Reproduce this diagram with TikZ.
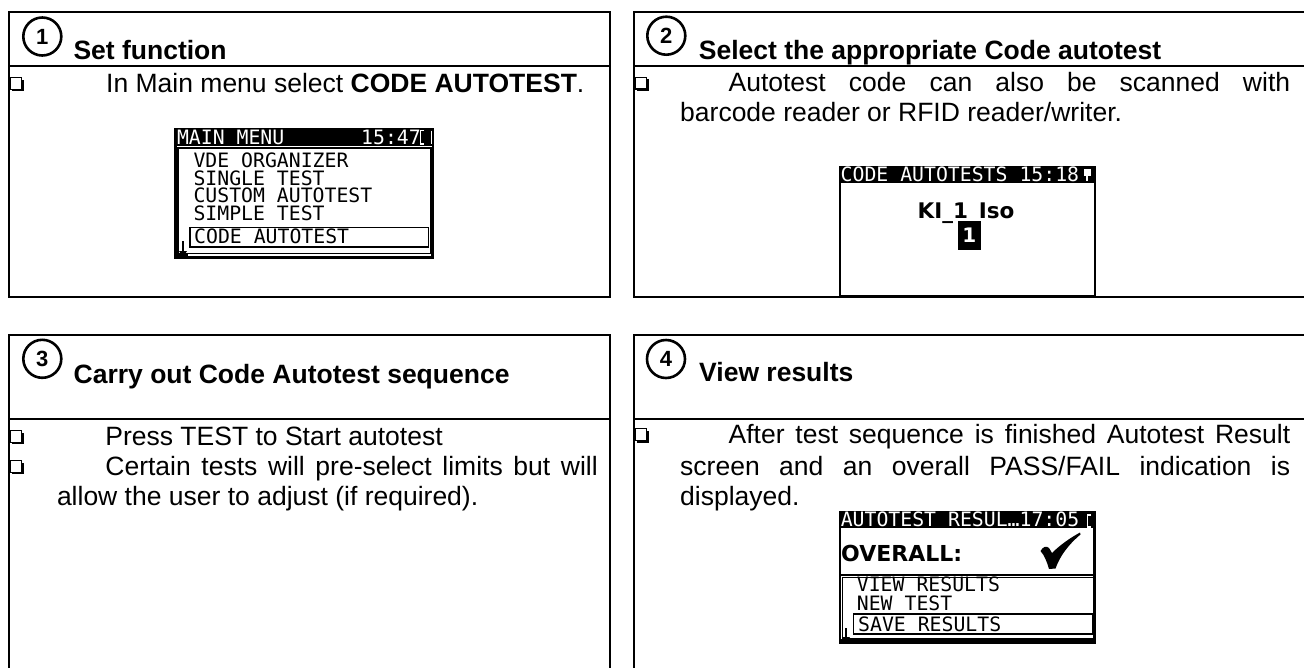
\documentclass[tikz,border=0pt]{standalone}
\usepackage{fontspec}
\setmainfont{Liberation Sans}
\newfontfamily\scrfont{DejaVu Sans Mono}
\newfontfamily\scrsans{DejaVu Sans}
\tikzset{
  frame/.style={line width=2pt},
  body/.style={anchor=base west, inner sep=0pt, font=\fontsize{26.5}{30}\selectfont},
  ttl/.style={anchor=base west, inner sep=0pt, font=\fontsize{26.5}{30}\selectfont\bfseries},
  num/.style={inner sep=0pt, font=\fontsize{22}{22}\selectfont\bfseries},
  ring/.style={line width=2.6pt},
  scr/.style={anchor=base west, inner sep=0pt, font=\scrfont\fontsize{19.8}{20}\selectfont},
  scrw/.style={scr, text=white},
  scrbig/.style={anchor=base west, inner sep=0pt, font=\scrsans\fontsize{22}{22}\selectfont\bfseries},
}
\newcommand\sqbullet[2]{%
  \draw[line width=1.3pt] ({#1+1},{#2-14.5}) rectangle ({#1+12.5},{#2-2.8});
  \fill ({#1+12},{#2-12.5}) rectangle ({#1+14.8},{#2-0.8});
  \fill ({#1+3},{#2-3.3}) rectangle ({#1+14.8},{#2-0.8});
}
\newcommand\scrarrow[3]{% x, top, bottom
  \draw[line width=1.6pt] (#1,#2) -- (#1,{#3-3});
  \fill ({#1-4},{#3-6}) -- ({#1+4},{#3-6}) -- (#1,#3) -- cycle;
}
\begin{document}
\begin{tikzpicture}[x=1pt,y=-1pt]
\useasboundingbox (0,0) rectangle (1304,667);

% ---------------- Box 1 ----------------
\draw[frame] (8.5,12) rectangle (610,296.7);
\draw[frame] (8.5,65.7) -- (610,65.7);
\draw[ring] (42.3,36.5) circle[radius=19];
\node[num] (c1) at (42.3,36.5) {1};
\node[ttl] (t1) at (73.3,59.3) {Set function};
\sqbullet{9}{92}
\node[body] (b1) at (106,92) {In Main menu select \textbf{CODE AUTOTEST}.};

% screen 1
\fill (174,128.3) rectangle (433.5,259.3);
\fill[white] (176.7,145.7) rectangle (431.5,147.3);
\fill[white] (178.5,149.3) rectangle (430,252.5);
\fill[white] (188,253.5) rectangle (431,255.5);
\draw[line width=1.3pt] (190,227.5) rectangle (428.5,247);
\node[scrw] (s1t) at (176.8,144.5) {MAIN MENU};
\node[scrw] (s1c) at (361,144.5) {15:47};
\draw[white, line width=1.2pt] (424,130.5) -- (420.5,130.5) -- (420.5,144) -- (424,144);
\draw[white, line width=1pt] (431,130.5) -- (431,144);
\node[scr] (s1a) at (193.3,167) {VDE ORGANIZER};
\node[scr] (s1b) at (193.3,185) {SINGLE TEST};
\node[scr] (s1d) at (193.3,202.5) {CUSTOM AUTOTEST};
\node[scr] (s1e) at (193.3,220.5) {SIMPLE TEST};
\node[scr] (s1f) at (194,243.5) {CODE AUTOTEST};
\scrarrow{183}{241}{257}

% ---------------- Box 2 ----------------
\draw[frame] (1306,12) -- (634,12) -- (634,296.7) -- (1306,296.7);
\draw[frame] (634,65.7) -- (1306,65.7);
\draw[ring] (666.3,35.7) circle[radius=19];
\node[num] (c2) at (666.3,35.7) {2};
\node[ttl] (t2) at (698.7,59.3) {Select the appropriate Code autotest};
\sqbullet{634}{91.7}
\node[body] (b2a) at (728.4,91.7) {\makebox[561.6pt][s]{Autotest code can also be scanned with}};
\node[body] (b2b) at (680,121.7) {barcode reader or RFID reader/writer.};

% screen 2
\fill (839,165.7) rectangle (1095.5,183.3);
\draw[line width=2.2pt] (840,166) -- (840,296) -- (1094.6,296) -- (1094.6,166);
\node[scrw] (s2t) at (840.5,181.5) {CODE AUTOTESTS 15:18};
\fill[white] (1083.5,169) rectangle (1090.5,176);
\fill[white] (1085.7,176) rectangle (1088.3,181);
\node[anchor=base, inner sep=0pt, font=\scrsans\fontsize{21.5}{21.5}\selectfont\bfseries] (s2k) at (966,218) {KI\_1\_Iso};
\fill (957.8,220.7) rectangle (981,250);
\node[inner sep=0pt, text=white, font=\scrsans\fontsize{20}{20}\selectfont\bfseries] (s2n) at (969.4,235.5) {1};

% ---------------- Box 3 ----------------
\draw[frame] (8.5,670) -- (8.5,335) -- (610,335) -- (610,670);
\draw[frame] (8.5,419.3) -- (610,419.3);
\draw[ring] (42.3,358.8) circle[radius=19];
\node[num] (c3) at (42.3,358.8) {3};
\node[ttl] (t3) at (73.5,383.5) {Carry out Code Autotest sequence};
\sqbullet{9}{445}
\node[body] (b3a) at (105.2,445) {Press TEST to Start autotest};
\sqbullet{9}{475}
\node[body] (b3b) at (105.2,475) {\makebox[492.4pt][s]{Certain tests will pre-select limits but will}};
\node[body] (b3c) at (56.8,505) {allow the user to adjust (if required).};

% ---------------- Box 4 ----------------
\draw[frame] (1306,335) -- (634,335) -- (634,670);
\draw[frame] (634,419.3) -- (1306,419.3);
\draw[ring] (666,359) circle[radius=19];
\node[num] (c4) at (666,359) {4};
\node[ttl] (t4) at (699,381.7) {View results};
\sqbullet{634}{443.3}
\node[body] (b4a) at (728.4,443.3) {\makebox[561.6pt][s]{After test sequence is finished Autotest Result}};
\node[body] (b4b) at (680,475) {\makebox[610pt][s]{screen and an overall PASS/FAIL indication is}};
\node[body] (b4c) at (680,505) {displayed.};

% screen 4
\fill (839,512.3) rectangle (1095.4,528.3);
\draw[line width=2.2pt] (840,512.5) rectangle (1094.5,643);
\draw[line width=2.5pt] (839,575) -- (1095.4,575);
\draw[line width=1pt] (842,577) rectangle (1093,638.5);
\fill (839,639) rectangle (1095.4,643.3);
\node[scrw] (s4t) at (840.6,526.8) {AUTOTEST RESUL…17:05};
\draw[white, line width=1.2pt] (1091,515) -- (1087.5,515) -- (1087.5,527) -- (1091,527);
\node[scrbig] (s4o) at (841,561.7) {OVERALL:};
\fill (1040.5,551) .. controls (1043,546.5) and (1046.5,545.5) .. (1049,548)
  -- (1052,553) .. controls (1060,545) and (1070,538) .. (1080,532.5)
  -- (1080.5,534.5) .. controls (1068,545) and (1060,556) .. (1055.5,568.5)
  -- (1049,569) .. controls (1047,562) and (1044.5,555.5) .. cycle;
\node[scr] (s4a) at (856.7,591.7) {VIEW RESULTS};
\node[scr] (s4b) at (856.7,610) {NEW TEST};
\draw[line width=1.3pt] (853.8,614) rectangle (1092.4,634);
\node[scr] (s4c) at (858,631.3) {SAVE RESULTS};
\scrarrow{846}{628}{643}
\end{tikzpicture}
\end{document}
